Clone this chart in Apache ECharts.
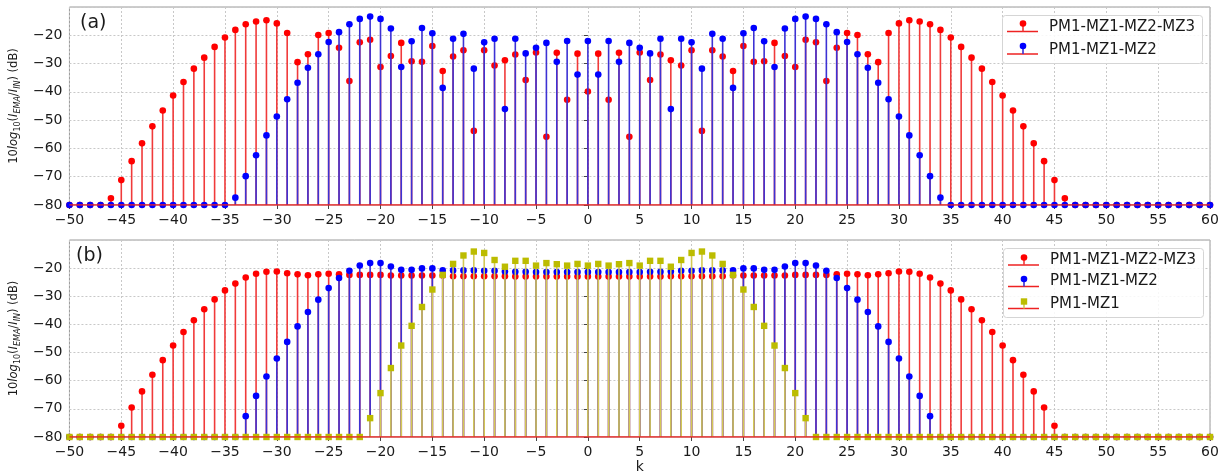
<!DOCTYPE html>
<html>
<head>
<meta charset="utf-8">
<script src="https://cdn.jsdelivr.net/npm/echarts@6/dist/echarts.min.js"></script>
<style>
  html, body { margin: 0; padding: 0; background: #ffffff; }
  #chart { width: 1231px; height: 475px; }
</style>
</head>
<body>
<div id="chart"></div>
<script>
// ---------------- data ----------------
const kValues = [
  -50,-49,-48,-47,-46,-45,-44,-43,-42,-41,-40,-39,-38,-37,-36,-35,-34,-33,-32,-31,
  -30,-29,-28,-27,-26,-25,-24,-23,-22,-21,-20,-19,-18,-17,-16,-15,-14,-13,-12,-11,
  -10,-9,-8,-7,-6,-5,-4,-3,-2,-1,0,1,2,3,4,5,6,7,8,9,
  10,11,12,13,14,15,16,17,18,19,20,21,22,23,24,25,26,27,28,29,
  30,31,32,33,34,35,36,37,38,39,40,41,42,43,44,45,46,47,48,49,
  50,51,52,53,54,55,56,57,58,59,60
];

// Panel (a)
const aMZ3 = [
  -80,-80,-80,-80,-77.6,-71.2,-64.5,-58.2,-52.2,-46.6,-41.3,-36.5,-31.8,-27.9,-24.1,-20.8,-18.1,-16.1,-15.1,-14.7,
  -15.8,-19.2,-29.5,-26.7,-19.9,-19.2,-24.4,-36.2,-22.5,-21.6,-31.2,-27.3,-22.7,-29.2,-29.4,-23.8,-32.6,-27.5,-25.3,-53.8,
  -25.3,-30.7,-28.8,-26.8,-35.8,-26.1,-55.9,-26.2,-42.8,-26.5,-39.9,-26.5,-42.8,-26.2,-55.9,-26.1,-35.8,-26.8,-28.8,-30.7,
  -25.3,-53.8,-25.3,-27.5,-32.6,-23.8,-29.4,-29.2,-22.7,-27.3,-31.2,-21.6,-22.5,-36.2,-24.4,-19.2,-19.9,-26.7,-29.5,-19.2,
  -15.8,-14.7,-15.1,-16.1,-18.1,-20.8,-24.1,-27.9,-31.8,-36.5,-41.3,-46.6,-52.2,-58.2,-64.5,-71.2,-77.6,-80,-80,-80,
  -80,-80,-80,-80,-80,-80,-80,-80,-80,-80,-80
];
const aMZ2 = [
  -80,-80,-80,-80,-80,-80,-80,-80,-80,-80,-80,-80,-80,-80,-80,-80,-77.4,-69.8,-62.4,-55.4,
  -48.7,-42.6,-36.8,-31.5,-26.7,-22.4,-18.9,-16.1,-14.2,-13.4,-14.2,-17.6,-31.2,-22.1,-17.4,-19.3,-38.6,-21.2,-19.5,-31.8,
  -22.5,-21.2,-46.1,-21.2,-26.4,-24.4,-22.7,-29.4,-22.0,-33.9,-22.0,-33.9,-22.0,-29.4,-22.7,-24.4,-26.4,-21.2,-46.1,-21.2,
  -22.5,-31.8,-19.5,-21.2,-38.6,-19.3,-17.4,-22.1,-31.2,-17.6,-14.2,-13.4,-14.2,-16.1,-18.9,-22.4,-26.7,-31.5,-36.8,-42.6,
  -48.7,-55.4,-62.4,-69.8,-77.4,-80,-80,-80,-80,-80,-80,-80,-80,-80,-80,-80,-80,-80,-80,-80,
  -80,-80,-80,-80,-80,-80,-80,-80,-80,-80,-80
];

// Panel (b)
const bMZ3 = [
  -80,-80,-80,-80,-80,-76.0,-69.5,-63.8,-57.9,-52.7,-47.5,-42.7,-38.5,-34.6,-31.1,-27.9,-25.5,-23.3,-22.0,-21.3,
  -21.2,-21.8,-22.2,-22.5,-22.2,-22.0,-22.2,-22.4,-22.4,-22.4,-22.4,-22.6,-22.6,-22.6,-22.6,-22.6,-22.6,-22.9,-22.9,-22.9,
  -22.9,-22.9,-22.9,-23.0,-23.0,-23.0,-23.0,-23.0,-23.0,-23.0,-23.0,-23.0,-23.0,-23.0,-23.0,-23.0,-23.0,-23.0,-22.9,-22.9,
  -22.9,-22.9,-22.9,-22.9,-22.6,-22.6,-22.6,-22.6,-22.6,-22.6,-22.4,-22.4,-22.4,-22.4,-22.2,-22.0,-22.2,-22.5,-22.2,-21.8,
  -21.2,-21.3,-22.0,-23.3,-25.5,-27.9,-31.1,-34.6,-38.5,-42.7,-47.5,-52.7,-57.9,-63.8,-69.5,-76.0,-80,-80,-80,-80,
  -80,-80,-80,-80,-80,-80,-80,-80,-80,-80,-80
];
const bMZ2 = [
  -80,-80,-80,-80,-80,-80,-80,-80,-80,-80,-80,-80,-80,-80,-80,-80,-80,-72.6,-65.4,-58.5,
  -52.1,-46.2,-40.7,-35.6,-31.2,-27.1,-23.5,-20.9,-19.1,-18.2,-18.2,-19.4,-20.6,-20.6,-20.1,-20.1,-20.8,-20.8,-20.8,-20.8,
  -20.9,-20.9,-21.2,-21.3,-21.3,-21.4,-21.4,-21.4,-21.4,-21.4,-21.4,-21.4,-21.4,-21.4,-21.4,-21.4,-21.3,-21.3,-21.2,-20.9,
  -20.9,-20.8,-20.8,-20.8,-20.8,-20.1,-20.1,-20.6,-20.6,-19.4,-18.2,-18.2,-19.1,-20.9,-23.5,-27.1,-31.2,-35.6,-40.7,-46.2,
  -52.1,-58.5,-65.4,-72.6,-80,-80,-80,-80,-80,-80,-80,-80,-80,-80,-80,-80,-80,-80,-80,-80,
  -80,-80,-80,-80,-80,-80,-80,-80,-80,-80,-80
];
const bMZ1 = [
  -80,-80,-80,-80,-80,-80,-80,-80,-80,-80,-80,-80,-80,-80,-80,-80,-80,-80,-80,-80,
  -80,-80,-80,-80,-80,-80,-80,-80,-80,-73.3,-64.4,-55.5,-47.5,-40.5,-33.8,-27.6,-22.4,-18.5,-15.5,-14.1,
  -14.6,-17.1,-19.5,-17.4,-17.4,-19.1,-18.2,-18.6,-19.1,-18.5,-19.1,-18.5,-19.1,-18.6,-18.2,-19.1,-17.4,-17.4,-19.5,-17.1,
  -14.6,-14.1,-15.5,-18.5,-22.4,-27.6,-33.8,-40.5,-47.5,-55.5,-64.4,-73.3,-80,-80,-80,-80,-80,-80,-80,-80,
  -80,-80,-80,-80,-80,-80,-80,-80,-80,-80,-80,-80,-80,-80,-80,-80,-80,-80,-80,-80,
  -80,-80,-80,-80,-80,-80,-80,-80,-80,-80,-80
];

const seriesNames = ['PM1-MZ1-MZ2-MZ3', 'PM1-MZ1-MZ2', 'PM1-MZ1'];
const xTicks = { min: -50, max: 60, step: 5 };
const yTicks = { min: -80, max: -10, step: 10 };
const BASE = -80;

// ---------------- styling ----------------
const FONT = 'DejaVu Sans';
const TXT = '#1a1a1a';
const BASE_RED = '#ee2222';
const C = {
  red:   { marker: '#ff0000', stem: '#f03a3a' },
  blue:  { marker: '#0000ff', stem: '#3d32d4' },
  yel:   { marker: '#bcbc00', stem: '#d3c955' }
};

function minusFmt(v) { return v < 0 ? '\u2212' + Math.abs(v) : String(v); }

function stemRenderer(col, shape) {
  return function (params, api) {
    const x = api.value(0), y = api.value(1);
    const p0 = api.coord([x, BASE]);
    const p1 = api.coord([x, y]);
    const marker = shape === 'circle'
      ? { type: 'circle', shape: { cx: p1[0], cy: p1[1], r: 3.3 }, style: { fill: col.marker } }
      : { type: 'rect', shape: { x: p1[0] - 3.2, y: p1[1] - 3.2, width: 6.4, height: 6.4 }, style: { fill: col.marker } };
    return {
      type: 'group',
      children: [
        { type: 'line', shape: { x1: p0[0], y1: p0[1], x2: p1[0], y2: p1[1] }, style: { stroke: col.stem, lineWidth: 1.6 } },
        marker
      ]
    };
  };
}

function pairs(vals) { return kValues.map((k, i) => [k, vals[i]]); }

function stemSeries(name, vals, col, shape, gi) {
  return {
    name: name, type: 'custom', xAxisIndex: gi, yAxisIndex: gi,
    data: pairs(vals), renderItem: stemRenderer(col, shape),
    itemStyle: { color: col.marker }, clip: false, silent: true
  };
}

function baseline(gi) {
  return {
    type: 'line', xAxisIndex: gi, yAxisIndex: gi, data: [[xTicks.min, BASE], [xTicks.max, BASE]],
    symbol: 'none', silent: true, z: 5,
    lineStyle: { color: BASE_RED, width: 1.5 }
  };
}

const gridDefs = [
  { left: 67, right: 21, top: 7, height: 198 },
  { left: 67, right: 21, top: 240, height: 198 }
];

function xAxisDef(gi, withName) {
  return {
    type: 'value', gridIndex: gi, min: xTicks.min, max: xTicks.max, interval: xTicks.step,
    axisLine: { show: false },
    axisTick: { show: true, length: 4, lineStyle: { color: '#444' } },
    axisLabel: { formatter: minusFmt, fontFamily: FONT, fontSize: 14, color: TXT, margin: 8 },
    splitLine: { show: true, lineStyle: { color: '#c8c8c8', type: [2, 2], width: 1 } },
    name: withName ? 'k' : '', nameLocation: 'middle', nameGap: 23,
    nameTextStyle: { fontFamily: FONT, fontSize: 14, color: TXT }
  };
}

const yName = '{n|10}{i|log}{s|10}{n|(}{i|I}{si|EMA}{n|/}{i|I}{si|IN}{n|) (dB)}';
const yRich = {
  n:  { fontFamily: FONT, fontSize: 11.5, color: TXT, lineHeight: 16, verticalAlign: 'middle' },
  i:  { fontFamily: FONT, fontSize: 11.5, fontStyle: 'italic', color: TXT, lineHeight: 16, verticalAlign: 'middle' },
  s:  { fontFamily: FONT, fontSize: 8, color: TXT, lineHeight: 8, verticalAlign: 'bottom' },
  si: { fontFamily: FONT, fontSize: 8, fontStyle: 'italic', color: TXT, lineHeight: 8, verticalAlign: 'bottom' }
};

function yAxisDef(gi) {
  return {
    type: 'value', gridIndex: gi, min: yTicks.min, max: yTicks.max, interval: yTicks.step,
    axisLine: { show: false },
    axisTick: { show: true, length: 4, lineStyle: { color: '#444' } },
    axisLabel: { formatter: minusFmt, fontFamily: FONT, fontSize: 14, color: TXT, margin: 7, showMaxLabel: false },
    splitLine: { show: true, lineStyle: { color: '#c8c8c8', type: [2, 2], width: 1 } },
    name: yName, nameLocation: 'middle', nameGap: 37, nameRotate: 90,
    nameTextStyle: { rich: yRich }
  };
}

// ---------------- legends (matplotlib stem handles: marker + stem + red baseline) ----------------
function legendBox(x, y, w, h) {
  return { type: 'rect', z: 50, silent: true, shape: { x: x + 0.5, y: y + 0.5, width: w, height: h, r: 3 },
    style: { fill: 'rgba(255,255,255,0.85)', stroke: '#d5d5d5', lineWidth: 1 } };
}
function legendRow(x0, markerY, baseY, textX, textY, name, col, shape) {
  const cx = x0 + 16;
  const els = [
    { type: 'line', z: 51, silent: true, shape: { x1: x0, y1: baseY, x2: x0 + 31, y2: baseY }, style: { stroke: BASE_RED, lineWidth: 1.5 } },
    { type: 'line', z: 51, silent: true, shape: { x1: cx, y1: baseY, x2: cx, y2: markerY }, style: { stroke: col.stem, lineWidth: 1.6 } },
    shape === 'circle'
      ? { type: 'circle', z: 52, silent: true, shape: { cx: cx, cy: markerY, r: 3.3 }, style: { fill: col.marker } }
      : { type: 'rect', z: 52, silent: true, shape: { x: cx - 3.2, y: markerY - 3.2, width: 6.4, height: 6.4 }, style: { fill: col.marker } },
    { type: 'text', z: 52, silent: true, x: textX, y: textY,
      style: { text: name, fontFamily: FONT, fontSize: 15, fill: TXT, verticalAlign: 'middle', align: 'left' } }
  ];
  return els;
}

const legendGraphics = [].concat(
  [legendBox(1002, 15, 200, 48)],
  legendRow(1007, 23.5, 31.5, 1049, 27.5, seriesNames[0], C.red, 'circle'),
  legendRow(1007, 46, 54, 1049, 50.5, seriesNames[1], C.blue, 'circle'),
  [legendBox(1003, 248, 200, 69)],
  legendRow(1008, 257.5, 265, 1050, 260, seriesNames[0], C.red, 'circle'),
  legendRow(1008, 279, 286.5, 1050, 281.5, seriesNames[1], C.blue, 'circle'),
  legendRow(1008, 301.5, 308.5, 1050, 304, seriesNames[2], C.yel, 'square')
);

const option = {
  animation: false,
  backgroundColor: '#ffffff',
  grid: gridDefs.map(g => Object.assign({ show: true, borderColor: '#9a9a9a', borderWidth: 1, backgroundColor: 'transparent' }, g)),
  xAxis: [xAxisDef(0, false), xAxisDef(1, true)],
  yAxis: [yAxisDef(0), yAxisDef(1)],
  graphic: [
    { type: 'text', left: 80, top: 14, style: { text: '(a)', fontFamily: FONT, fontSize: 19, fill: TXT } },
    { type: 'text', left: 76, top: 247, style: { text: '(b)', fontFamily: FONT, fontSize: 19, fill: TXT } }
  ].concat(legendGraphics),
  series: [
    stemSeries(seriesNames[0], aMZ3, C.red, 'circle', 0),
    stemSeries(seriesNames[1], aMZ2, C.blue, 'circle', 0),
    baseline(0),
    stemSeries(seriesNames[0], bMZ3, C.red, 'circle', 1),
    stemSeries(seriesNames[1], bMZ2, C.blue, 'circle', 1),
    stemSeries(seriesNames[2], bMZ1, C.yel, 'square', 1),
    baseline(1)
  ]
};

const chart = echarts.init(document.getElementById('chart'), null, { renderer: 'canvas' });
chart.setOption(option);
</script>
</body>
</html>
